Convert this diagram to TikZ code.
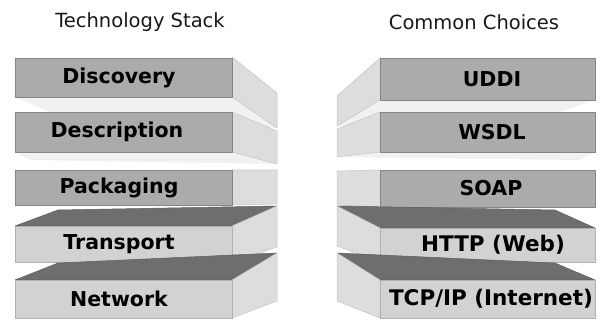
\documentclass[tikz,border=0pt]{standalone}
\usepackage{fontspec}
\setmainfont{DejaVu Sans}
\definecolor{midfront}{HTML}{ABABAB}
\definecolor{midedge}{HTML}{858585}
\definecolor{lightfront}{HTML}{D2D2D2}
\definecolor{lightedge}{HTML}{B0B0B0}
\definecolor{sidegray}{HTML}{DDDDDD}
\definecolor{sideedge}{HTML}{C4C4C4}
\definecolor{darktop}{HTML}{6E6E6E}
\definecolor{undergray}{HTML}{F1F1F1}
\begin{document}
\begin{tikzpicture}[x=1pt,y=-1pt,
  midface/.style={fill=midfront,draw=midedge,line width=0.8pt,line join=round},
  lightface/.style={fill=lightfront,draw=lightedge,line width=0.6pt,line join=round},
  sideface/.style={fill=sidegray,draw=sideedge,line width=0.5pt,line join=round},
  topface/.style={fill=darktop,draw=darktop!85!black,line width=0.5pt,line join=round},
  underface/.style={fill=undergray,draw=none},
  lbl/.style={font=\bfseries\fontsize{20.5}{24}\selectfont,text=black,inner sep=0pt},
  lblwide/.style={font=\bfseries\fontsize{21.5}{25}\selectfont,text=black,inner sep=0pt},
  ttl/.style={font=\fontsize{19.5}{22}\selectfont,text=black!90,inner sep=0pt}]
\useasboundingbox[fill=white] (0,0) rectangle (600,320);

% titles
\node[ttl] (tstack) at (140,22) {Technology Stack};
\node[ttl] (tchoice) at (474,22) {Common Choices};

% ===== left stack =====
% Discovery
\fill[underface] (15,97) -- (232,97) -- (277,128) -- (50,112) -- cycle;
\draw[sideface] (232,57) -- (277,93) -- (277,128) -- (232,97) -- cycle;
\draw[midface] (15,58) rectangle (232,97);
\node[lbl] (disc) at (119,77.5) {Discovery};
% Description
\fill[underface] (15,152) -- (232,152) -- (277,164) -- (30,160) -- cycle;
\draw[sideface] (232,112) -- (277,131) -- (277,164) -- (232,152) -- cycle;
\draw[midface] (15,112) rectangle (232,152);
\node[lbl] (desc) at (117,132) {Description};
% Packaging
\draw[sideface] (232,170) -- (277,170) -- (277,204) -- (232,205) -- cycle;
\draw[midface] (15,170) rectangle (232,205);
\node[lbl] (pack) at (119,187.5) {Packaging};
% Transport
\draw[topface] (15,226) -- (232,226) -- (277,206) -- (58,210) -- cycle;
\draw[sideface] (232,226) -- (277,206) -- (277,247) -- (232,262) -- cycle;
\draw[lightface] (15,226) rectangle (232,262);
\node[lbl] (trans) at (119,244) {Transport};
% Network
\draw[topface] (15,280) -- (232,280) -- (277,253) -- (58,263) -- cycle;
\draw[sideface] (232,280) -- (277,253) -- (277,301) -- (232,318) -- cycle;
\draw[lightface] (15,280) rectangle (232,318);
\node[lbl] (net) at (119,299) {Network};

% ===== right stack =====
% UDDI
\fill[underface] (595,100) -- (380,100) -- (337,126) -- (560,112) -- cycle;
\draw[sideface] (380,58) -- (337,96) -- (337,126) -- (380,100) -- cycle;
\draw[midface] (380,58) rectangle (595,100);
\node[lbl] (uddi) at (492,79) {UDDI};
% WSDL
\fill[underface] (595,152) -- (380,152) -- (337,157) -- (580,160) -- cycle;
\draw[sideface] (380,112) -- (337,129) -- (337,157) -- (380,152) -- cycle;
\draw[midface] (380,112) rectangle (595,152);
\node[lbl] (wsdl) at (492,132) {WSDL};
% SOAP
\draw[sideface] (380,170) -- (337,171) -- (337,205) -- (380,207) -- cycle;
\draw[midface] (380,170) rectangle (595,207);
\node[lbl] (soap) at (491,188.5) {SOAP};
% HTTP
\draw[topface] (380,228) -- (595,228) -- (555,210) -- (337,206) -- cycle;
\draw[sideface] (380,228) -- (337,206) -- (337,246) -- (380,262) -- cycle;
\draw[lightface] (380,228) rectangle (595,262);
\node[lblwide] (http) at (493,245) {HTTP (Web)};
% TCP/IP
\draw[topface] (380,280) -- (595,280) -- (555,263) -- (337,253) -- cycle;
\draw[sideface] (380,280) -- (337,253) -- (337,301) -- (380,318) -- cycle;
\draw[lightface] (380,280) rectangle (595,318);
\node[lblwide] (tcp) at (491,299) {TCP/IP (Internet)};
\end{tikzpicture}
\end{document}
